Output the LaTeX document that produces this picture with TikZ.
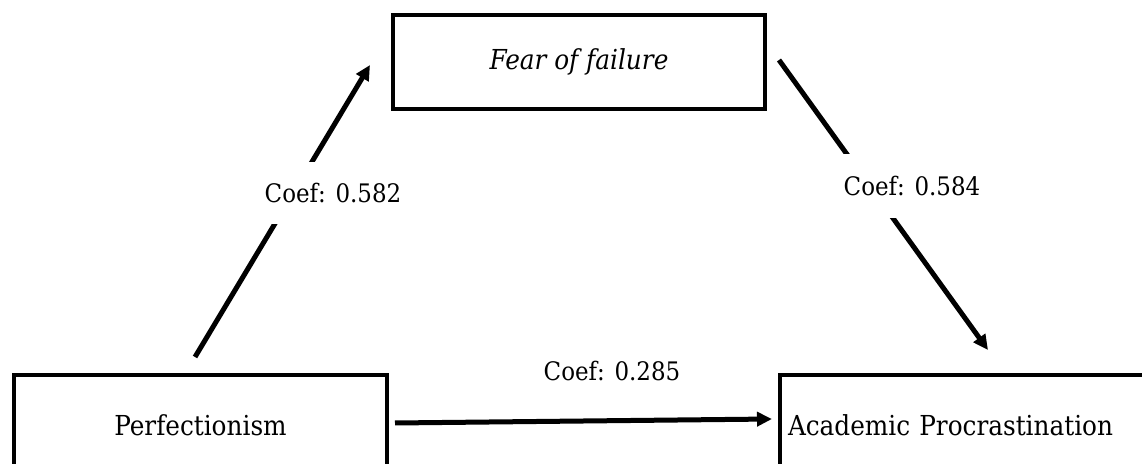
\documentclass[tikz,border=0pt]{standalone}
\usepackage{fontspec}
\setmainfont{DejaVu Serif Condensed}
\usetikzlibrary{arrows.meta}
\begin{document}
\begin{tikzpicture}[x=1bp,y=-1bp,
  varbox/.style={draw=black,line width=4bp,rectangle,inner sep=0pt,
    font=\fontsize{27.5bp}{32bp}\selectfont},
  coeflabel/.style={font=\fontsize{25.5bp}{30bp}\selectfont,inner xsep=3bp,inner ysep=0pt},
  patharrow/.style={line width=5bp,-{Triangle[length=15bp,width=14bp]}}]
\useasboundingbox (0,0) rectangle (1142,464);
% boxes
\node[varbox,minimum width=372bp,minimum height=94bp] (fear) at (579,62) {\itshape Fear of failure};
\node[varbox,anchor=north west,minimum width=373bp,minimum height=100bp] (perf) at (12,373) {Perfectionism};
\node[varbox,anchor=north west,minimum height=100bp,text width=405bp,align=left,inner xsep=8bp] (acad) at (778,373) {Academic Procrastination};
% arrow end points
\coordinate (p1) at (195,357);
\coordinate (p2) at (370,65);
\coordinate (f1) at (779,60);
\coordinate (f2) at (988,350);
\coordinate (h1) at (395,423);
\coordinate (h2) at (772,419);
% connectors
\draw[patharrow] (p1) -- (p2);
\draw[patharrow] (f1) -- (f2);
\draw[patharrow] (h1) -- (h2);
% labels
\node[coeflabel,fill=white,minimum height=62bp] (l1) at (333,193) {Coef: 0.582};
\node[coeflabel,fill=white,minimum height=64bp] (l2) at (912,186) {Coef: 0.584};
\node[coeflabel] (l3) at (612,371) {Coef: 0.285};
\end{tikzpicture}
\end{document}
